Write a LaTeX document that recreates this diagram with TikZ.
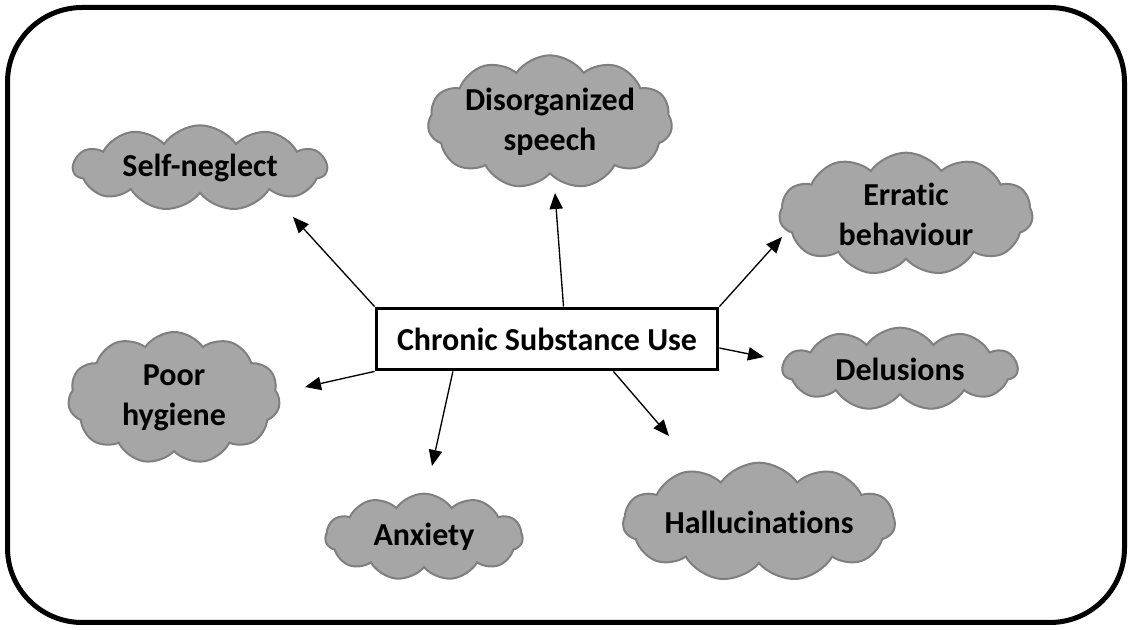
\documentclass[tikz,border=0pt]{standalone}
\usepackage{fontspec}
\setmainfont{Carlito}[Ligatures=NoCommon]
\usetikzlibrary{shapes.symbols}
\usetikzlibrary{arrows.meta}
\definecolor{pufffill}{HTML}{A6A6A6}
\definecolor{puffline}{HTML}{7F7F7F}
\tikzset{
  puff/.style={cloud,cloud puffs=11,cloud puff arc=110,cloud ignores aspect,
    draw=puffline,fill=pufffill,line width=1.5pt,align=center,inner sep=0pt,
    font=\bfseries\fontsize{24}{30}\selectfont},
  usebox/.style={draw,line width=2.6pt,minimum width=256pt,minimum height=46pt,
    inner sep=0pt,font=\bfseries\fontsize{24}{30}\selectfont},
  effect/.style={line width=1pt,-{Triangle[length=12pt,width=10pt]}}
}

\begin{document}
\begin{tikzpicture}[x=0.75pt,y=-0.75pt]
\useasboundingbox (0,0) rectangle (1132,630);
\draw[line width=3.75pt,rounded corners=56pt] (7.5,7.5) rectangle (1124.5,622.5);

\node[usebox] (use) at (547,339) {Chronic Substance Use};

\node[puff,minimum width=190pt,minimum height=64pt] (neglect) at (200,168) {Self-neglect};
\node[puff,minimum width=160pt,minimum height=100pt] (speech) at (550,122) {Disorganized\\speech};
\node[puff,minimum width=190pt,minimum height=92pt] (erratic) at (906,214) {Erratic\\behaviour};
\node[puff,minimum width=176pt,minimum height=62pt] (delusions) at (900,369) {Delusions};
\node[puff,minimum width=159pt,minimum height=99pt] (hygiene) at (174,398) {Poor\\hygiene};
\node[puff,minimum width=148pt,minimum height=65pt] (anxiety) at (424,537) {Anxiety};
\node[puff,minimum width=204pt,minimum height=89pt] (halluc) at (759,522) {Hallucinations};

\coordinate (neglect tip) at (293,217);
\coordinate (speech tip) at (555,193);
\coordinate (erratic tip) at (782,237);
\coordinate (delusions tip) at (764,357);
\coordinate (hygiene tip) at (305,387);
\coordinate (anxiety tip) at (432,466);
\coordinate (halluc tip) at (669,436);

\draw[effect] (use.north west) -- (neglect tip);
\draw[effect] (use.63) -- (speech tip);
\draw[effect] (use.north east) -- (erratic tip);
\draw[effect] (use.-3) -- (delusions tip);
\draw[effect] (use.south west) -- (hygiene tip);
\draw[effect] (use.199) -- (anxiety tip);
\draw[effect] (use.-26) -- (halluc tip);

\end{tikzpicture}
\end{document}
